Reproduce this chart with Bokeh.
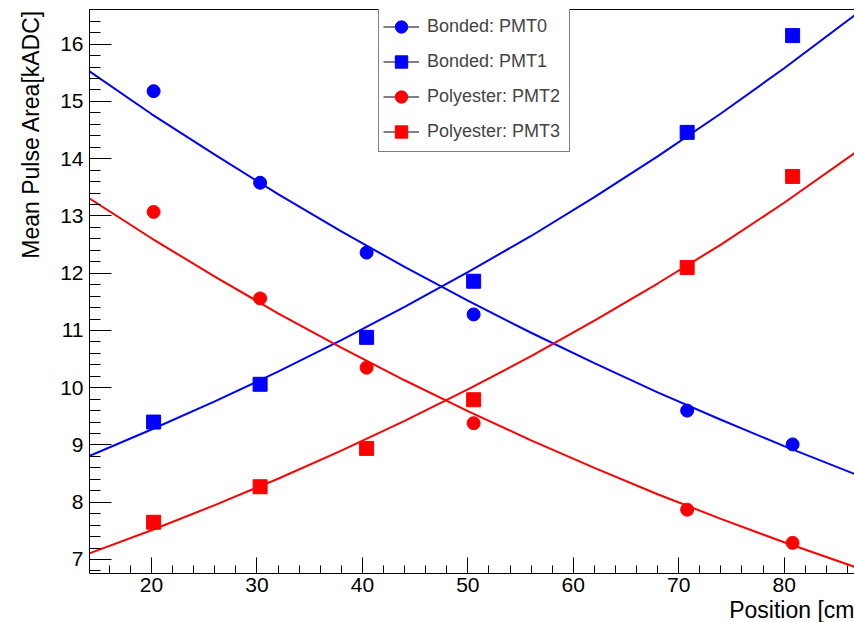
import math
from bokeh.plotting import figure
from bokeh.models import (Range1d, SingleIntervalTicker, FixedTicker, LinearAxis,
                          Legend, LegendItem, Title)
from bokeh.embed import file_html
from bokeh.resources import INLINE

# ---- data ----
positions = [20.2, 30.3, 40.4, 50.55, 70.8, 80.8]
pmt0 = [15.18, 13.58, 12.36, 11.28, 9.60, 9.01]
pmt1 = [9.40, 10.06, 10.88, 11.86, 14.46, 16.15]
pmt2 = [13.07, 11.56, 10.35, 9.38, 7.87, 7.29]
pmt3 = [7.65, 8.27, 8.94, 9.79, 12.10, 13.69]

# fitted curves
fit_x = [14, 20, 26, 32, 38, 44, 50, 56, 62, 68, 74, 80, 87]
fit0 = [15.54, 14.78, 14.07, 13.38, 12.73, 12.11, 11.52, 10.96, 10.43, 9.92, 9.44, 8.98, 8.47]
fit1 = [8.80, 9.27, 9.76, 10.28, 10.83, 11.41, 12.02, 12.65, 13.33, 14.04, 14.79, 15.58, 16.55]
fit2 = [13.32, 12.61, 11.94, 11.30, 10.70, 10.13, 9.59, 9.08, 8.60, 8.14, 7.71, 7.30, 6.85]
fit3 = [7.10, 7.51, 7.95, 8.41, 8.90, 9.42, 9.97, 10.55, 11.17, 11.82, 12.50, 13.23, 14.14]

series_labels = ["Bonded: PMT0", "Bonded: PMT1", "Polyester: PMT2", "Polyester: PMT3"]
x_title = "Position [cm"
y_title = "Mean Pulse Area[kADC]"

X0, X1 = 14.12, 86.67
Y0, Y1 = 6.755, 16.606
FONT = "Liberation Sans"
NAN = float("nan")

W, H = 854, 622
BL, BR, BT, BB = 89, 0, 9, 49

p = figure(width=W, height=H, x_range=Range1d(X0, X1), y_range=Range1d(Y0, Y1),
           output_backend="svg", toolbar_location=None,
           x_axis_type=None, y_axis_type=None,
           min_border_left=BL, min_border_right=BR, min_border_top=BT, min_border_bottom=BB)
p.outline_line_color = None
p.xgrid.visible = False
p.ygrid.visible = False
p.background_fill_color = "white"
p.border_fill_color = "white"

xaxis = LinearAxis(ticker=SingleIntervalTicker(interval=10, num_minor_ticks=5))
yaxis = LinearAxis(ticker=SingleIntervalTicker(interval=1, num_minor_ticks=5))
for ax, tin, tmin, so in ((xaxis, 16, 8, 4), (yaxis, 22, 11, 6)):
    ax.axis_line_color = "black"
    ax.axis_line_width = 1
    ax.major_tick_in = tin
    ax.major_tick_out = 0
    ax.minor_tick_in = tmin
    ax.minor_tick_out = 0
    ax.major_tick_line_color = "black"
    ax.minor_tick_line_color = "black"
    ax.major_label_text_font = FONT
    ax.major_label_text_font_size = "21px"
    ax.major_label_text_color = "black"
    ax.major_label_standoff = so
p.add_layout(xaxis, "below")
p.add_layout(yaxis, "left")

top = LinearAxis(ticker=FixedTicker(ticks=[]), major_tick_line_color=None,
                 minor_tick_line_color=None, major_label_text_font_size="0px",
                 axis_line_color="black")
p.add_layout(top, "above")

p.add_layout(Title(text=x_title, align="right", text_font=FONT, text_font_size="23px",
                   text_font_style="normal", text_color="black", standoff=0, offset=0),
             "below")
p.add_layout(Title(text=y_title, align="right", text_font=FONT, text_font_size="23px",
                   text_font_style="normal", text_color="black", standoff=27, offset=0),
             "left")

colors = ["#0000ff", "#0000ff", "#ff0000", "#ff0000"]
markers = ["circle", "square", "circle", "square"]
sizes = [13, 14, 13, 14]
values = [pmt0, pmt1, pmt2, pmt3]
fits = [fit0, fit1, fit2, fit3]

items = []
for lab, c, m, s, v, f in zip(series_labels, colors, markers, sizes, values, fits):
    p.line(fit_x, f, line_color=c, line_width=2)
    sr = p.scatter(positions, v, marker=m, size=s, fill_color=c, line_color=c)
    dummy = p.line([NAN], [NAN], line_color="black", line_width=1)
    items.append(LegendItem(label=lab, renderers=[dummy, sr]))

legend = Legend(items=items, location=(289, 421),
                border_line_color="black", border_line_width=1,
                background_fill_color="white", background_fill_alpha=1.0,
                label_text_font=FONT, label_text_font_size="18px",
                glyph_width=36, glyph_height=31, label_height=31,
                label_standoff=8, spacing=4, padding=4, margin=0,
                label_width=138)
p.add_layout(legend, "center")

open("out.html", "w").write(file_html(p, INLINE))
